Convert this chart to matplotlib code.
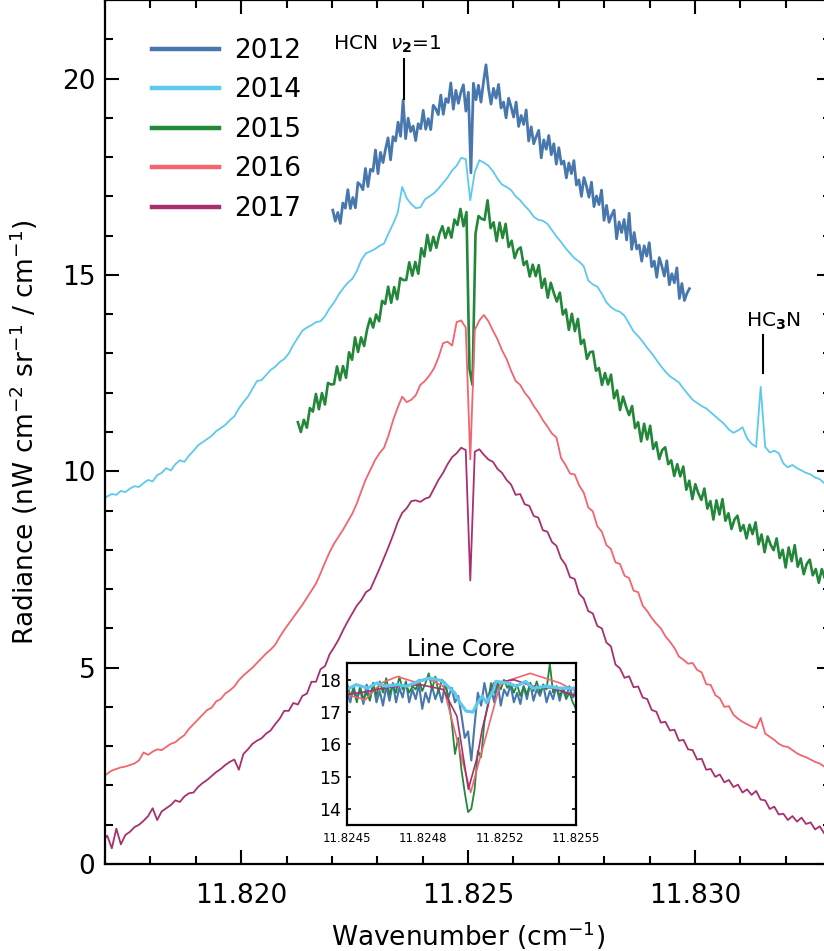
import numpy as np
import matplotlib
matplotlib.use("Agg")
import matplotlib.pyplot as plt
from matplotlib.ticker import MultipleLocator, FormatStrFormatter, FixedLocator, FixedFormatter
from matplotlib.lines import Line2D

plt.rcParams['font.family'] = ['DejaVu Sans']
plt.rcParams['mathtext.fontset'] = 'dejavusans'

# ---------------- data ----------------
years = ['2012', '2014', '2015', '2016', '2017']
colors = ['#4777ad', '#5ec8ef', '#23873a', '#f2646f', '#a8306f']

# common sampling grid for 2014 / 2016 / 2017 (wavenumber, cm^-1)
smooth_start = 11.81695
smooth_step = 0.0001

rad_2014 = [9.28, 9.36, 9.42, 9.40, 9.50, 9.47, 9.56, 9.62, 9.60, 9.70,
            9.78, 9.74, 9.90, 9.96, 10.08, 10.02, 10.18, 10.28, 10.24, 10.40,
            10.52, 10.66, 10.74, 10.82, 10.90, 11.02, 11.10, 11.18, 11.30, 11.40,
            11.60, 11.76, 11.90, 12.10, 12.30, 12.32, 12.45, 12.58, 12.66, 12.78,
            12.86, 13.00, 13.22, 13.40, 13.58, 13.66, 13.72, 13.80, 13.82, 13.95,
            14.15, 14.30, 14.50, 14.66, 14.80, 14.90, 15.10, 15.38, 15.55, 15.60,
            15.66, 15.74, 15.80, 16.06, 16.30, 16.58, 17.24, 16.95, 16.80, 16.70,
            16.72, 16.92, 17.00, 17.08, 17.20, 17.34, 17.48, 17.66, 17.78, 17.98,
            17.95, 16.90, 17.62, 17.92, 17.86, 17.78, 17.64, 17.45, 17.30, 17.24,
            17.16, 17.00, 16.90, 16.76, 16.64, 16.48, 16.40, 16.38, 16.30, 16.14,
            15.98, 15.84, 15.68, 15.55, 15.42, 15.34, 15.22, 14.86, 14.76, 14.70,
            14.52, 14.30, 14.18, 14.10, 14.06, 13.96, 13.76, 13.56, 13.44, 13.30,
            13.14, 13.00, 12.84, 12.68, 12.54, 12.42, 12.34, 12.26, 12.10, 11.96,
            11.82, 11.74, 11.66, 11.60, 11.50, 11.40, 11.30, 11.20, 11.06, 10.98,
            11.04, 11.12, 10.84, 10.70, 10.62, 12.15, 10.62, 10.48, 10.52, 10.46,
            10.20, 10.10, 10.16, 10.08, 10.02, 9.96, 9.92, 9.84, 9.80, 9.70,
            9.66, 9.62]

rad_2016 = [2.22, 2.30, 2.38, 2.42, 2.46, 2.48, 2.52, 2.56, 2.64, 2.84,
            2.78, 2.86, 2.92, 2.90, 2.98, 3.06, 3.10, 3.20, 3.28, 3.44,
            3.56, 3.68, 3.80, 3.92, 3.98, 4.14, 4.20, 4.34, 4.42, 4.52,
            4.68, 4.80, 4.90, 5.00, 5.12, 5.24, 5.36, 5.46, 5.58, 5.78,
            5.96, 6.12, 6.28, 6.44, 6.60, 6.78, 6.96, 7.14, 7.40, 7.68,
            7.94, 8.16, 8.34, 8.52, 8.72, 8.92, 9.18, 9.50, 9.80, 10.04,
            10.28, 10.46, 10.60, 10.92, 11.30, 11.62, 11.90, 11.76, 11.82, 11.94,
            12.20, 12.30, 12.44, 12.62, 12.90, 13.26, 13.30, 13.20, 13.80, 13.84,
            13.66, 10.30, 13.60, 13.84, 13.98, 13.82, 13.58, 13.36, 13.08, 12.86,
            12.56, 12.30, 12.20, 12.00, 11.86, 11.66, 11.50, 11.30, 11.14, 10.96,
            10.86, 10.34, 10.16, 9.94, 9.92, 9.64, 9.46, 9.08, 8.98, 8.60,
            8.46, 8.12, 8.02, 7.68, 7.64, 7.34, 7.28, 6.96, 6.92, 6.58,
            6.44, 6.26, 6.12, 6.00, 5.80, 5.66, 5.50, 5.28, 5.20, 5.10,
            5.12, 4.94, 4.88, 4.58, 4.56, 4.30, 4.22, 4.00, 4.02, 3.80,
            3.70, 3.62, 3.56, 3.50, 3.46, 3.72, 3.32, 3.24, 3.16, 3.06,
            3.00, 2.98, 2.90, 2.82, 2.76, 2.72, 2.66, 2.60, 2.56, 2.48,
            2.44, 2.40]

rad_2017 = [0.60, 0.72, 0.40, 0.90, 0.50, 0.74, 0.82, 0.94, 1.00, 1.10,
            1.22, 1.42, 1.12, 1.34, 1.42, 1.50, 1.62, 1.58, 1.72, 1.80,
            1.82, 1.96, 2.06, 2.14, 2.24, 2.34, 2.42, 2.52, 2.60, 2.66,
            2.40, 2.80, 2.92, 3.06, 3.14, 3.20, 3.32, 3.40, 3.56, 3.70,
            3.90, 3.90, 4.10, 4.06, 4.28, 4.34, 4.64, 4.64, 4.96, 5.04,
            5.34, 5.52, 5.72, 5.96, 6.18, 6.38, 6.58, 6.72, 6.92, 7.00,
            7.26, 7.52, 7.80, 8.08, 8.38, 8.70, 8.94, 9.06, 9.24, 9.26,
            9.22, 9.30, 9.34, 9.56, 9.78, 9.96, 10.18, 10.36, 10.46, 10.60,
            10.54, 7.22, 10.50, 10.56, 10.42, 10.30, 10.24, 10.06, 9.96, 9.78,
            9.66, 9.40, 9.42, 9.16, 9.12, 8.86, 8.82, 8.50, 8.46, 8.20,
            8.10, 7.78, 7.62, 7.30, 7.26, 6.88, 6.76, 6.44, 6.38, 6.06,
            6.00, 5.64, 5.54, 5.08, 4.98, 4.74, 4.78, 4.50, 4.52, 4.24,
            4.20, 3.92, 3.88, 3.60, 3.62, 3.40, 3.42, 3.14, 3.16, 2.92,
            2.90, 2.66, 2.68, 2.40, 2.42, 2.22, 2.28, 2.08, 2.14, 1.96,
            2.02, 1.82, 1.90, 1.76, 1.86, 1.64, 1.62, 1.40, 1.46, 1.26,
            1.28, 1.12, 1.22, 1.08, 1.18, 1.02, 1.06, 0.88, 0.96, 0.78,
            0.78, 0.74]

# noisy 2012 spectrum (evenly sampled between start and end)
wn_2012_range = (11.82202, 11.82988)
rad_2012 = [16.65, 16.37, 16.59, 16.31, 16.83, 16.70, 17.17, 16.69, 16.97, 16.71,
            17.35, 17.29, 17.17, 17.71, 17.25, 17.69, 17.64, 18.18, 17.58, 18.12,
            17.86, 18.20, 18.49, 17.93, 18.52, 18.41, 18.89, 18.53, 19.45, 18.47,
            18.99, 18.65, 18.79, 18.42, 18.85, 18.72, 19.19, 18.71, 18.98, 18.70,
            19.32, 19.23, 19.08, 19.58, 19.09, 19.49, 19.39, 19.89, 19.22, 19.70,
            19.37, 19.65, 19.84, 19.17, 19.65, 17.60, 19.88, 19.46, 19.83, 19.40,
            19.91, 20.35, 19.75, 19.35, 19.75, 19.50, 19.85, 19.25, 19.40, 19.00,
            19.50, 19.28, 19.02, 19.40, 18.78, 19.06, 18.83, 19.20, 18.41, 18.77,
            18.34, 18.52, 18.68, 17.98, 18.44, 18.20, 18.55, 18.06, 18.34, 17.82,
            18.24, 17.82, 17.90, 17.47, 17.85, 17.58, 17.91, 17.29, 17.42, 17.00,
            17.48, 17.26, 16.98, 17.36, 16.74, 17.01, 16.79, 17.16, 16.39, 16.77,
            16.34, 16.52, 16.65, 15.92, 16.35, 16.08, 16.41, 15.89, 16.57, 15.65,
            16.08, 15.66, 15.76, 15.35, 15.74, 15.48, 15.82, 15.21, 15.35, 14.94,
            15.44, 15.23, 14.97, 15.36, 14.75, 15.03, 14.80, 15.18, 14.40, 14.78,
            14.35, 14.53, 14.65]

# noisy 2015 spectrum
wn_2015_range = (11.82125, 11.83293)
rad_2015 = [11.25, 11.00, 11.31, 11.11, 11.61, 11.52, 11.97, 11.58, 11.99, 11.70,
            12.25, 12.21, 12.22, 12.67, 12.32, 12.68, 12.38, 13.03, 12.84, 13.41,
            13.04, 13.41, 13.19, 13.61, 13.89, 13.66, 13.99, 13.82, 14.34, 14.26,
            14.70, 14.29, 14.69, 14.38, 14.92, 14.87, 14.87, 15.32, 14.98, 15.33,
            15.03, 15.68, 15.47, 16.02, 15.62, 15.97, 15.69, 16.04, 16.24, 15.94,
            16.20, 15.95, 16.41, 16.27, 16.68, 16.24, 16.60, 12.60, 12.20, 16.05,
            16.50, 16.43, 16.40, 16.90, 16.19, 16.34, 15.86, 16.33, 15.94, 16.30,
            15.71, 15.87, 15.43, 15.64, 15.70, 15.25, 15.35, 14.96, 15.26, 14.97,
            15.25, 14.67, 14.90, 14.42, 14.80, 14.54, 14.32, 14.55, 13.99, 14.12,
            13.60, 14.01, 13.57, 13.88, 13.24, 13.35, 12.86, 13.03, 13.05, 12.56,
            12.63, 12.20, 12.50, 12.21, 12.46, 11.86, 12.06, 11.56, 11.90, 11.64,
            11.43, 11.66, 11.10, 11.25, 10.76, 11.21, 10.81, 11.16, 10.57, 10.74,
            10.31, 10.54, 10.61, 10.18, 10.28, 9.88, 10.18, 9.87, 10.12, 9.53,
            9.76, 9.29, 9.67, 9.44, 9.27, 9.56, 9.05, 9.24, 8.77, 9.26,
            8.90, 9.29, 8.74, 8.93, 8.53, 8.77, 8.87, 8.48, 8.63, 8.29,
            8.64, 8.40, 8.70, 8.14, 8.39, 7.94, 8.34, 8.13, 7.99, 8.29,
            7.79, 8.00, 7.55, 8.06, 7.71, 8.12, 7.57, 7.78, 7.38, 7.64,
            7.75, 7.35, 7.51, 7.16, 7.51, 7.28, 7.60]

# ---- inset (line core) ----
inset_noisy_range = (11.8245, 11.8255)
core_2012 = [17.6, 17.3, 17.8, 17.4, 17.7, 17.25, 17.85, 17.4, 17.9, 17.3,
             17.65, 17.2, 17.8, 17.35, 17.9, 17.3, 17.75, 17.45, 17.95, 17.3,
             17.7, 17.4, 17.85, 17.1, 17.6, 17.3, 17.8, 17.4, 17.7, 17.3,
             17.9, 17.45, 17.75, 17.3,
             17.5, 16.9, 16.2, 16.4, 15.5, 16.6, 17.6, 17.2,
             17.9, 17.4, 17.75, 17.3, 17.95, 17.2, 17.7, 17.5, 17.85, 17.3,
             17.6, 17.25, 17.8, 17.4, 17.9, 17.35, 17.7, 17.5, 17.85, 17.3,
             17.65, 17.4, 17.8, 17.35, 17.75, 17.5, 17.8, 17.45, 17.7]
core_2015 = [17.9, 17.5, 17.7, 17.3, 17.8, 17.4, 17.6, 17.35, 17.9, 17.5,
             17.95, 17.6, 18.05, 17.55, 17.85, 17.6, 18.1, 17.7, 17.9, 17.6,
             17.8, 17.7, 18.0, 17.65, 17.9, 18.2, 17.7, 18.1, 17.6, 18.0,
             17.9, 17.4, 16.7, 15.7, 16.2, 15.2, 14.5, 13.9, 14.0, 14.6,
             15.8, 15.6, 16.7, 17.2, 17.9,
             17.6, 17.9, 17.7, 18.0, 17.75, 17.9, 17.6, 17.85, 17.5, 17.8,
             17.55, 17.9, 17.65, 17.95, 17.6, 17.85, 17.7, 18.5, 17.6, 17.8,
             17.5, 17.7, 17.4, 17.6, 17.3, 17.1]
core_2014_wn = [11.82450, 11.82454, 11.82459, 11.82463, 11.82467, 11.82472, 11.82476,
                11.82481, 11.82486, 11.82491, 11.82494, 11.82497, 11.82499, 11.82502,
                11.82505, 11.82507, 11.82509, 11.82511, 11.82514, 11.82515, 11.82520,
                11.82524, 11.82528, 11.82531, 11.82537, 11.82543, 11.82550]
core_2014 = [17.70, 17.85, 17.74, 17.90, 17.80, 17.85, 17.80,
             17.95, 18.05, 17.98, 17.80, 17.60, 17.33, 17.03,
             17.00, 17.28, 17.49, 17.28, 17.69, 17.95, 17.90,
             17.80, 17.95, 17.74, 17.80, 17.74, 17.74]
core_2016_wn = [11.82450, 11.82458, 11.82465, 11.82472, 11.82481, 11.82485, 11.82492,
                11.82504, 11.82517, 11.82530, 11.82543, 11.82550]
core_2016 = [17.54, 17.38, 17.90, 18.10, 17.90, 18.05, 17.80,
             14.51, 17.90, 18.20, 17.90, 17.64]
core_2017_wn = [11.82450, 11.82459, 11.82466, 11.82473, 11.82482, 11.82492, 11.82498,
                11.82503, 11.82507, 11.82509, 11.82514, 11.82523, 11.82531, 11.82540,
                11.82550]
core_2017 = [17.54, 17.64, 17.74, 17.80, 17.85, 17.70, 16.87,
             14.61, 15.64, 16.46, 17.90, 18.00, 17.80, 17.74,
             17.49]
inset_xticks = [11.8245, 11.8245 + 0.001 / 3, 11.8245 + 0.002 / 3, 11.8255]
inset_yticks = [14, 15, 16, 17, 18]

# ---------------- figure ----------------
W, H = 824, 951
fig = plt.figure(figsize=(W / 100, H / 100), dpi=100)
ax = fig.add_axes([105 / W, 87 / H, (831 - 105) / W, 864 / H])

wn_smooth = smooth_start + smooth_step * np.arange(len(rad_2014))
wn_2012 = np.linspace(wn_2012_range[0], wn_2012_range[1], len(rad_2012))
wn_2015 = np.linspace(wn_2015_range[0], wn_2015_range[1], len(rad_2015))

c12, c14, c15, c16, c17 = colors
ax.plot(wn_2012, rad_2012, color=c12, lw=2.0)
ax.plot(wn_smooth, rad_2014, color=c14, lw=1.3)
ax.plot(wn_2015, rad_2015, color=c15, lw=1.9)
ax.plot(wn_smooth, rad_2016, color=c16, lw=1.3)
ax.plot(wn_smooth, rad_2017, color=c17, lw=1.3)

ax.set_xlim(11.817, 11.833)
ax.set_ylim(0, 22)
ax.xaxis.set_major_locator(MultipleLocator(0.005))
ax.xaxis.set_minor_locator(MultipleLocator(0.001))
ax.xaxis.set_major_formatter(FormatStrFormatter('%.3f'))
ax.yaxis.set_major_locator(MultipleLocator(5))
ax.yaxis.set_minor_locator(MultipleLocator(1))
ax.tick_params(which='both', direction='in', top=True, right=True, width=1.5, color='black')
ax.tick_params(which='major', length=10)
ax.tick_params(which='minor', length=6)
ax.tick_params(axis='x', which='major', pad=14, labelsize=19)
ax.tick_params(axis='y', which='major', pad=7, labelsize=19)
for sp in ax.spines.values():
    sp.set_linewidth(1.6)

ax.set_xlabel('Wavenumber (cm$^{-1}$)', fontsize=19, labelpad=7)
ax.set_ylabel('Radiance (nW cm$^{-2}$ sr$^{-1}$ / cm$^{-1}$)', fontsize=19, labelpad=16)

# legend
handles = [Line2D([0], [0], color=c, lw=3.2) for c in colors]
ax.legend(handles, years, loc='upper left', bbox_to_anchor=(152 / W, 1 - 38 / H),
          bbox_transform=fig.transFigure, frameon=False, fontsize=19,
          handlelength=2.55, handletextpad=0.55, labelspacing=0.51,
          borderpad=0, borderaxespad=0)

# annotations
ax.text(11.82322, 20.86, r'HCN  $\nu_{\mathbf{2}}$=1', ha='center', va='center', fontsize=14.5)
ax.plot([11.82359, 11.82359], [19.48, 20.50], color='black', lw=1.5)
ax.text(11.83173, 13.83, r'HC$_{\mathbf{3}}$N', ha='center', va='center', fontsize=14.5)
ax.plot([11.83151, 11.83151], [12.50, 13.47], color='black', lw=1.5)

# ---------------- inset ----------------
axin = fig.add_axes([347 / W, 126 / H, 229 / W, 162 / H])
wn_core = np.linspace(inset_noisy_range[0], inset_noisy_range[1], len(core_2012))
axin.plot(wn_core, core_2012, color=c12, lw=1.5)
axin.plot(np.linspace(inset_noisy_range[0], inset_noisy_range[1], len(core_2015)),
          core_2015, color=c15, lw=1.3)
axin.plot(core_2016_wn, core_2016, color=c16, lw=1.2)
axin.plot(core_2017_wn, core_2017, color=c17, lw=1.2)
axin.plot(core_2014_wn, core_2014, color=c14, lw=2.3)
axin.set_xlim(11.8245, 11.8255)
axin.set_ylim(13.5, 18.52)
axin.xaxis.set_major_locator(FixedLocator(inset_xticks))
axin.xaxis.set_major_formatter(FixedFormatter(['%.4f' % v for v in inset_xticks]))
axin.yaxis.set_major_locator(FixedLocator(inset_yticks))
axin.tick_params(axis='x', length=0, pad=5, labelsize=8.5)
axin.tick_params(axis='y', direction='in', length=3, width=1.2, left=True, right=True,
                 pad=4, labelsize=12.5)
for sp in axin.spines.values():
    sp.set_linewidth(1.6)
axin.set_title('Line Core', fontsize=16.5, pad=5)

fig.savefig('out.png', dpi=100)
